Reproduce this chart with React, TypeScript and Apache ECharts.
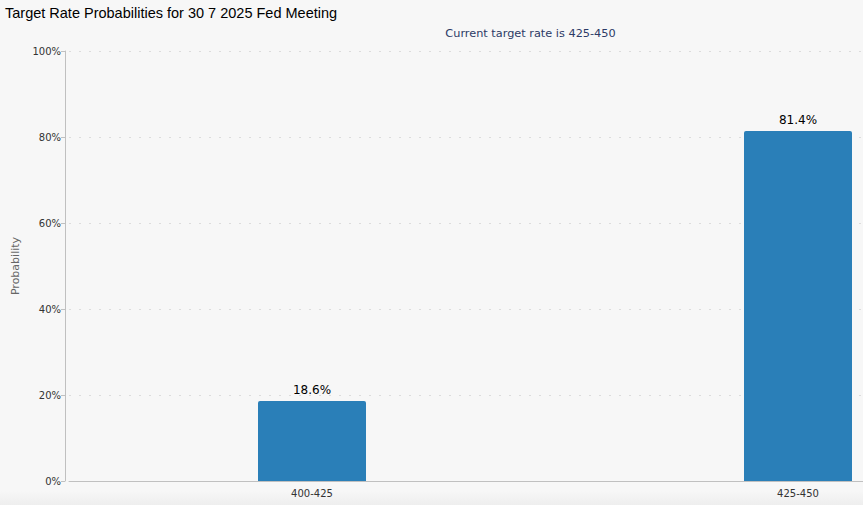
import React, { useEffect, useRef } from "react";
import * as echarts from "echarts";

const categories = ["400-425", "425-450"];
const probabilities = [18.6, 81.4];
const titleText = "Target Rate Probabilities for 30 7 2025 Fed Meeting";
const subtitleText = "Current target rate is 425-450";

export default function App() {
  const ref = useRef<HTMLDivElement>(null);
  useEffect(() => {
    if (!ref.current) return;
    const chart = echarts.init(ref.current, null, { renderer: "svg" });
    chart.setOption({
      animation: false,
      backgroundColor: "#f7f7f7",
      graphic: [
        {
          type: "rect",
          left: 0,
          bottom: 0,
          z: -10,
          silent: true,
          shape: { width: 863, height: 14 },
          style: {
            fill: new echarts.graphic.LinearGradient(0, 0, 0, 1, [
              { offset: 0, color: "#f7f7f7" },
              { offset: 1, color: "#eeeeee" },
            ]),
          },
        },
      ],
      title: [
        {
          text: titleText,
          left: 0,
          top: 0,
          textStyle: { fontFamily: "Liberation Sans, Arial", fontSize: 14.5, fontWeight: "normal", color: "#000" },
        },
        {
          text: subtitleText,
          left: 525.5,
          top: 23,
          textAlign: "center",
          textStyle: { fontFamily: "DejaVu Sans, Verdana", fontSize: 11.3, fontWeight: "normal", color: "#2c3a66" },
        },
      ],
      grid: { left: 69, top: 51, right: -178, bottom: 24, outerBoundsMode: "none", containLabel: false },
      xAxis: {
        type: "category",
        data: categories,
        axisLine: { lineStyle: { color: "#c0c0c0" } },
        axisTick: { alignWithLabel: true, length: 6, lineStyle: { color: "#c0c0c0" } },
        axisLabel: { fontFamily: "DejaVu Sans, Verdana", fontSize: 10, color: "#333", margin: 7 },
      },
      yAxis: {
        type: "value",
        min: 0,
        max: 100,
        interval: 20,
        offset: 4,
        name: "Probability",
        nameLocation: "middle",
        nameGap: 44,
        nameTextStyle: { fontFamily: "DejaVu Sans, Verdana", fontSize: 11, color: "#666" },
        axisLine: { show: true, lineStyle: { color: "#c0c0c0" } },
        axisTick: { show: true, length: 4, lineStyle: { color: "#c0c0c0" } },
        axisLabel: { formatter: "{value}%", fontFamily: "DejaVu Sans, Verdana", fontSize: 10, color: "#333", margin: 4 },
        splitLine: { show: true, lineStyle: { color: "#dcdcdc", type: [2, 8] } },
      },
      series: [
        {
          type: "bar",
          data: probabilities,
          barWidth: 108,
          itemStyle: { color: "#2a7fb8", borderRadius: [2, 2, 0, 0] },
          label: {
            show: true,
            position: "top",
            distance: 5,
            formatter: (p: any) => p.value.toFixed(1) + "%",
            fontFamily: "DejaVu Sans, Verdana",
            fontSize: 12,
            color: "#000",
          },
        },
      ],
    });
    return () => chart.dispose();
  }, []);
  return <div ref={ref} style={{ position: "fixed", left: 0, top: 0, width: 863, height: 505 }} />;
}
